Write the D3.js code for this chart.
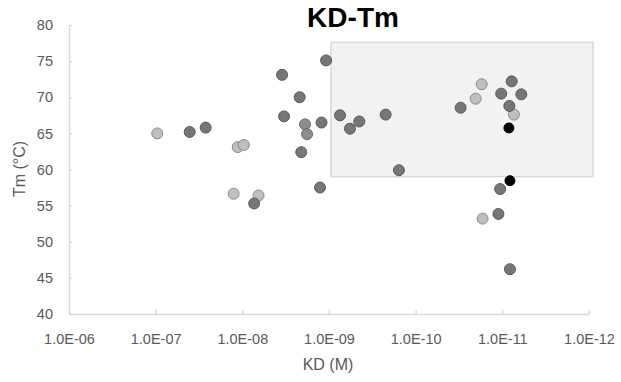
<!DOCTYPE html>
<html><head><meta charset="utf-8">
<script src="https://cdn.jsdelivr.net/npm/d3@7"></script>
<style>body{margin:0;background:#fff;} svg{display:block;}</style>
</head><body>
<svg id="c" width="621" height="382"></svg>
<script>
// Data
const xTicks = [1e-6, 1e-7, 1e-8, 1e-9, 1e-10, 1e-11, 1e-12];
const yTicks = [40, 45, 50, 55, 60, 65, 70, 75, 80];
const lightKD = [9.6e-8, 1.13e-8, 9.6e-9, 1.26e-8, 6.5e-9, 1.73e-11, 2.03e-11, 7.35e-12, 1.69e-11];
const lightTm = [65.0, 63.1, 63.4, 56.65, 56.4, 71.8, 69.8, 67.6, 53.2];
const darkKD = [4.05e-8, 2.65e-8, 7.3e-9, 1.27e-9, 1.08e-9, 3.48e-9, 2.18e-9, 3.3e-9, 1.22e-9, 7.46e-10, 5.73e-10, 4.47e-10, 2.22e-10, 2.09e-9, 1.56e-10, 7.8e-12, 1.03e-11, 6.04e-12, 3.03e-11, 8.3e-12, 1.06e-11, 1.11e-11, 8.17e-12];
const darkTm = [65.2, 65.8, 55.3, 57.5, 75.1, 73.1, 70.0, 67.35, 66.5, 67.5, 65.65, 66.65, 67.6, 62.4, 59.9, 72.2, 70.5, 70.4, 68.55, 68.8, 57.3, 53.85, 46.2];
const midKD = [1.89e-9, 1.79e-9];
const midTm = [66.25, 64.9];
const blackKD = [8.4e-12, 8.17e-12];
const blackTm = [65.75, 58.45];
const regionKD = [9.5e-10, 9.0e-13];
const regionTm = [77.6, 59.0];

const svg = d3.select('#c');
const x = d3.scaleLog().domain([1e-6, 1e-12]).range([69, 589]);
const y = d3.scaleLinear().domain([40, 80]).range([314, 25]);

// highlight region
svg.append('rect')
  .attr('x', x(regionKD[0])).attr('y', y(regionTm[0]))
  .attr('width', x(regionKD[1]) - x(regionKD[0]))
  .attr('height', y(regionTm[1]) - y(regionTm[0]))
  .attr('fill', '#f2f2f2').attr('stroke', '#d9d9d9').attr('stroke-width', 1.5);

const fmt = d => { const e = Math.round(Math.log10(d)); return '1.0E-' + String(-e).padStart(2, '0'); };

const xAxis = svg.append('g').attr('transform', 'translate(0,314)')
  .call(d3.axisBottom(x).tickValues(xTicks).tickFormat(fmt).tickSizeInner(-4).tickSizeOuter(0).tickPadding(20));
const yAxis = svg.append('g').attr('transform', 'translate(69,0)')
  .call(d3.axisLeft(y).tickValues(yTicks).tickSizeInner(-3).tickSizeOuter(0).tickPadding(16));
[xAxis, yAxis].forEach(g => {
  g.select('.domain').attr('stroke', '#d9d9d9').attr('stroke-width', 1.5);
  g.selectAll('.tick line').attr('stroke', '#d9d9d9').attr('stroke-width', 1.5);
  g.selectAll('.tick text').attr('fill', '#595959').attr('font-family', 'Liberation Sans, Arial, sans-serif').attr('font-size', 14.5);
});

function series(kd, tm, fill, stroke, r) {
  svg.append('g').selectAll('circle').data(kd.map((k, i) => [k, tm[i]])).join('circle')
    .attr('cx', d => x(d[0])).attr('cy', d => y(d[1])).attr('r', r)
    .attr('fill', fill).attr('stroke', stroke).attr('stroke-width', 1);
}
series(lightKD, lightTm, '#bfbfbf', '#8c8c8c', 5.5);
series(midKD, midTm, '#8c8c8c', '#6a6a6a', 5.5);
series(darkKD, darkTm, '#767676', '#5a5a5a', 5.5);
series(blackKD, blackTm, '#000000', '#000000', 5);

svg.append('text').attr('x', 353).attr('y', 27).attr('text-anchor', 'middle')
  .attr('font-family', 'Liberation Sans, Arial, sans-serif').attr('font-weight', 'bold').attr('font-size', 28)
  .attr('fill', '#000').text('KD-Tm');
svg.append('text').attr('x', 328).attr('y', 370).attr('text-anchor', 'middle')
  .attr('font-family', 'Liberation Sans, Arial, sans-serif').attr('font-size', 16)
  .attr('fill', '#595959').text('KD (M)');
svg.append('text').attr('transform', 'translate(25,169) rotate(-90)').attr('text-anchor', 'middle')
  .attr('font-family', 'Liberation Sans, Arial, sans-serif').attr('font-size', 16)
  .attr('fill', '#595959').text('Tm (°C)');
</script>
</body></html>
